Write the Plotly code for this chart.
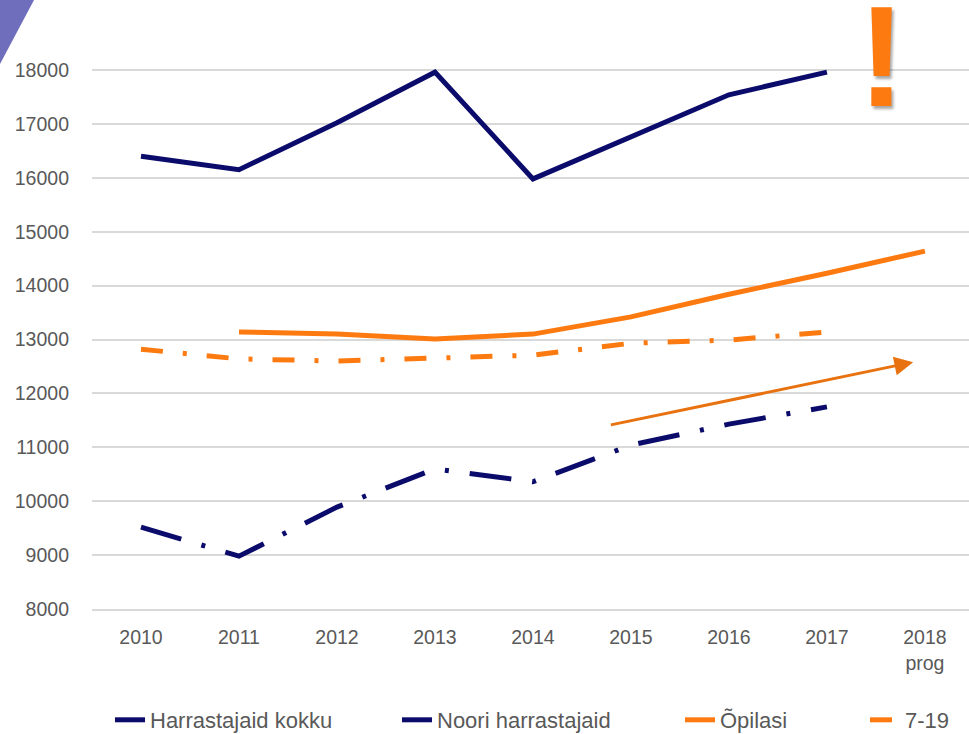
import plotly.graph_objects as go

years = ["2010", "2011", "2012", "2013", "2014", "2015", "2016", "2017", "2018<br>prog"]
harrastajaid_kokku = [16400, 16150, 17020, 17960, 15980, 16760, 17540, 17960, None]
noori_harrastajaid = [9520, 8980, 9890, 10600, 10360, 11040, 11430, 11750, None]
opilasi = [None, 13140, 13100, 13010, 13100, 13420, 13840, 14230, 14640]
vanus_7_19 = [12820, 12640, 12600, 12660, 12710, 12930, 12990, 13140, None]

# trend arrow (category index, value)
arrow_start = (4.78, 11410)
arrow_end = (7.88, 12580)

W, H = 969, 734
ML, MR, MT, MB = 92, 0, 20, 125
NAVY = "#0b0b6b"
ORANGE = "#fd7a10"
ORANGE_ARROW = "#e8720f"
GREY = "#595959"
FONT = "Liberation Sans"

plot_w = W - ML - MR
plot_h = H - MT - MB


def px_x(p):
    return (p - ML) / plot_w


def px_y(p):
    return (H - MB - p) / plot_h


fig = go.Figure()
fig.add_trace(go.Scatter(x=years, y=harrastajaid_kokku, mode="lines", name="Harrastajaid kokku",
                         line=dict(color=NAVY, width=5), legend="legend"))
fig.add_trace(go.Scatter(x=years, y=noori_harrastajaid, mode="lines", name="Noori harrastajaid",
                         line=dict(color=NAVY, width=5, dash="42px,21px,4px,21px"), legend="legend2"))
fig.add_trace(go.Scatter(x=years, y=opilasi, mode="lines", name="Õpilasi",
                         line=dict(color=ORANGE, width=5), legend="legend3"))
fig.add_trace(go.Scatter(x=years, y=vanus_7_19, mode="lines", name="7-19",
                         line=dict(color=ORANGE, width=5, dash="22px,20px,4px,20px"), legend="legend4"))

fig.add_annotation(x=arrow_end[0], y=arrow_end[1], ax=arrow_start[0], ay=arrow_start[1],
                   xref="x", yref="y", axref="x", ayref="y", text="", showarrow=True,
                   arrowhead=2, arrowsize=1.25, arrowwidth=3, arrowcolor=ORANGE_ARROW)

fig.add_annotation(x=px_x(881), y=px_y(56), xref="paper", yref="paper", text="<b>!</b>",
                   showarrow=False, xanchor="center", yanchor="middle",
                   font=dict(family=FONT, size=142, color=ORANGE, shadow="2px 3px 3px rgba(0,0,0,0.35)"))

fig.add_shape(type="path", xref="paper", yref="paper",
              path=f"M {px_x(0)} {px_y(0)} L {px_x(34)} {px_y(0)} L {px_x(0)} {px_y(64)} Z",
              fillcolor="#6e6ebd", line=dict(width=0), layer="above")

leg_common = dict(orientation="h", y=px_y(720), yanchor="middle", xanchor="left",
                  font=dict(family=FONT, size=22, color=GREY), bgcolor="rgba(0,0,0,0)")
fig.update_layout(
    width=W, height=H,
    margin=dict(l=ML, r=MR, t=MT, b=MB, autoexpand=False),
    paper_bgcolor="white", plot_bgcolor="white",
    font=dict(family=FONT, size=19.5, color=GREY),
    showlegend=True,
    legend=dict(x=px_x(110), **leg_common),
    legend2=dict(x=px_x(397), **leg_common),
    legend3=dict(x=px_x(680), **leg_common),
    legend4=dict(x=px_x(865), **leg_common),
)
fig.update_xaxes(range=[-0.5, 8.45], showgrid=False, showline=True, linecolor="#d9d9d9", linewidth=1.5,
                 ticks="", tickfont=dict(size=19.5, color=GREY), ticklabelstandoff=10)
fig.update_yaxes(range=[8000, 8000 + plot_h / 53.9 * 1000], dtick=1000, tick0=8000, tickformat="d",
                 showgrid=True, gridcolor="#d9d9d9", gridwidth=1.5, zeroline=False,
                 ticks="", tickfont=dict(size=19.5, color=GREY), ticklabelstandoff=22)

fig.write_html("out.html", config={"displayModeBar": False},
               post_script="document.body.style.margin='0px';")
